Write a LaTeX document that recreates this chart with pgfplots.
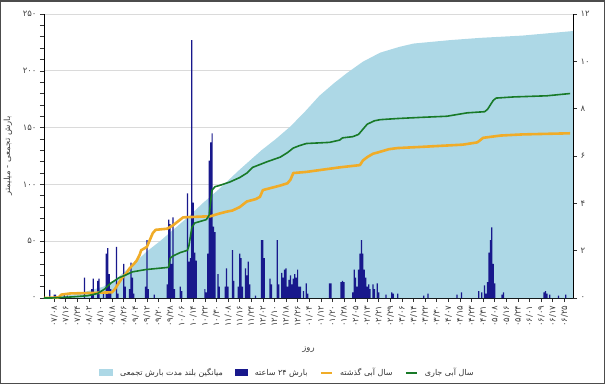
\documentclass[border=0pt]{standalone}
\usepackage{pgfplots}
\pgfplotsset{compat=1.18}
\usepackage{pgfplotstable}
\usepackage{fontspec}
\setmainfont{DejaVu Sans}
\newfontfamily\fa[Script=Arabic]{DejaVu Sans}
\TeXXeTstate=1
\definecolor{ltblue}{RGB}{173,216,230}
\definecolor{navybar}{RGB}{24,24,140}
\definecolor{orangeln}{RGB}{240,172,40}
\definecolor{greenln}{RGB}{24,122,40}
\definecolor{gridgray}{RGB}{218,218,218}

% long-term mean cumulative precipitation (mm)
\pgfplotstableread{
d v
0 0
10 1
20 3
30 6
41 10
50 17
60 28
71 41
80 50
90 61
100 72
110 84
120 95
135 113
150 130
160 140
170 151
180 164
190 178
200 189
209 198
220 208
232 216
245 221
255 224
280 227
301 229
330 231
365 235
}\longmean

% current water year cumulative (mm)
\pgfplotstableread{
d v
0 0
5 0
12 0.5
20 1
30 2
37 4
42 8
46 13
52 18
56 20
61 23
70 25
78 26
86 27
87 35
89 37
94 40
99 42
100 46
102 62
104 66
112 69
114 73
115 85
116 95
118 98
121 99
128 102
135 106
140 110
144 115
150 118
154 120
163 124
168 128
172 132
176 134
181 136
197 137
204 139
206 141
213 142
217 144
219 147
221 150
223 153
228 156
232 157
244 158
260 159
278 160
292 163
304 164
306 166
308 170
310 174
312 176
324 177
347 178
363 180
}\current

% previous water year cumulative (mm)
\pgfplotstableread{
d v
0 0
10 0.5
12 3
18 4
34 4.5
47 5
49 8
50 10
52 14
54 18
57 22
59 26
62 30
64 33
66 38
67 42
71 45
73 51
75 57
77 60
85 61
89 64
92 67
94 69
96 71
115 72
120 74
126 76
130 77
135 80
140 85
146 87
149 89
151 95
157 97
163 99
168 101
170 104
172 110
181 111
204 115
218 117
220 121
223 124
227 127
230 128
238 131
244 132
260 133
289 135
299 137
303 141
315 143
330 144
363 145
}\previous

% 24-hour precipitation (mm, right axis)
\pgfplotstableread{
d p
4 0.34
7 0.14
8 0.14
14 0.19
16 0.10
28 0.86
33 0.38
34 0.82
37 0.72
38 0.82
41 0.24
43 1.87
44 2.11
45 1.01
46 0.38
50 2.16
51 0.19
55 1.44
56 0.48
59 0.38
60 1.49
61 0.86
62 0.19
70 0.48
71 2.45
72 0.38
76 0.14
85 0.58
86 3.31
87 3.12
88 1.44
89 3.41
90 0.38
94 0.48
95 0.29
99 4.42
100 1.54
101 1.68
102 10.90
103 4.03
104 1.92
105 1.58
111 0.38
112 0.24
113 1.87
114 5.81
115 6.58
116 6.96
117 3.02
118 2.78
120 1.01
121 0.48
125 0.48
126 1.25
127 0.48
130 2.02
131 0.72
134 0.48
135 1.87
136 1.68
137 0.48
139 1.25
140 0.96
141 1.54
142 0.58
146 0.10
150 2.45
151 2.45
152 1.68
156 0.82
157 0.58
161 2.45
162 0.58
164 1.06
165 0.86
166 1.20
167 1.25
168 0.48
169 0.77
170 0.96
171 0.58
172 0.82
173 1.01
174 0.86
175 1.20
176 0.48
177 0.48
179 0.29
181 0.62
182 0.19
197 0.62
198 0.62
205 0.67
206 0.72
207 0.67
213 0.24
214 1.20
215 0.86
216 0.48
217 1.20
218 1.87
219 2.45
220 1.87
221 1.20
222 0.86
223 0.48
224 0.58
225 0.38
227 0.58
228 0.38
230 0.62
231 0.24
236 0.14
240 0.24
241 0.19
244 0.19
262 0.10
265 0.19
285 0.14
288 0.24
300 0.29
302 0.24
304 0.53
305 0.19
306 0.67
307 1.92
308 2.45
309 2.98
310 1.44
311 0.62
316 0.14
317 0.24
345 0.24
346 0.29
347 0.19
349 0.14
355 0.10
360 0.14
}\daily

\begin{document}
\begin{tikzpicture}
\begin{axis}[
  at={(0,0)}, anchor=south west,
  width=529pt, height=284pt, scale only axis,
  xmin=0, xmax=365, ymin=0, ymax=250,
  axis x line*=bottom, axis y line*=left,
  axis line style={black, line width=0.8pt},
  ytick={0,50,...,250},
  yticklabels={۰,۵۰,۱۰۰,۱۵۰,۲۰۰,۲۵۰},
  minor ytick={10,20,30,40,60,70,80,90,110,120,130,140,160,170,180,190,210,220,230,240},
  ymajorgrids, grid style={gridgray, line width=1pt},
  xtick={7,15,...,359},
  xticklabels={۰۷/۰۸,۰۷/۱۶,۰۷/۲۴,۰۸/۰۲,۰۸/۱۰,۰۸/۱۸,۰۸/۲۶,۰۹/۰۴,۰۹/۱۲,۰۹/۲۰,۰۹/۲۸,۱۰/۰۶,۱۰/۱۴,۱۰/۲۲,۱۰/۳۰,۱۱/۰۸,۱۱/۱۶,۱۱/۲۴,۱۲/۰۲,۱۲/۱۰,۱۲/۱۸,۱۲/۲۶,۰۱/۰۴,۰۱/۱۲,۰۱/۲۰,۰۱/۲۸,۰۲/۰۵,۰۲/۱۳,۰۲/۲۱,۰۲/۲۹,۰۳/۰۶,۰۳/۱۴,۰۳/۲۲,۰۳/۳۰,۰۴/۰۷,۰۴/۱۵,۰۴/۲۳,۰۴/۳۱,۰۵/۰۸,۰۵/۱۶,۰۵/۲۴,۰۶/۰۱,۰۶/۰۹,۰۶/۱۷,۰۶/۲۵},
  x tick label style={rotate=90, anchor=east, font=\fa\fontsize{8.5}{9}\selectfont, text=black!75},
  y tick label style={font=\fa\fontsize{8.5}{9}\selectfont, text=black!75},
  tick align=outside, major tick length=4pt, minor tick length=4pt,
  tick style={black!80, line width=0.6pt},
  xlabel={\fa\beginR روز\endR},
  xlabel style={at={(axis description cs:0.5,-0.183)}, anchor=center, font=\fa\fontsize{8.5}{9}\selectfont, text=black!75},
  ylabel={\fa\beginR بارش تجمعی - میلیمتر\endR},
  ylabel style={at={(axis description cs:-0.068,0.5)}, anchor=center, font=\fa\fontsize{8.5}{9}\selectfont, text=black!75},
  legend columns=4,
  legend style={at={(axis description cs:0.46,-0.264)}, anchor=center, draw=none, fill=none,
    font=\fa\fontsize{8}{9}\selectfont, text=black!80,
    /tikz/every odd column/.append style={column sep=5pt},
    /tikz/every even column/.append style={column sep=10pt}},
]
\addplot[fill=ltblue, draw=none,
  legend image code/.code={\fill[ltblue] (0pt,-3.5pt) rectangle (14pt,3.5pt);}]
  table[x=d, y=v] {\longmean} \closedcycle;
\addlegendentry{\beginR میانگین بلند مدت بارش تجمعی\endR}
\addplot[ybar, bar width=0.85, fill=navybar, draw=none,
  legend image code/.code={\fill[navybar] (0pt,-3.5pt) rectangle (13pt,3.5pt);}]
  table[x=d, y expr=\thisrow{p}*250/12] {\daily};
\addlegendentry{\beginR بارش ۲۴ ساعته\endR}
\addplot[orangeln, line width=2.6pt, line join=round,
  legend image code/.code={\draw[orangeln, line width=2.6pt] (0pt,0pt) -- (11pt,0pt);}]
  table[x=d, y=v] {\previous};
\addlegendentry{\beginR سال آبی گذشته\endR}
\addplot[greenln, line width=1.6pt, line join=round,
  legend image code/.code={\draw[greenln, line width=2.2pt] (0pt,0pt) -- (11pt,0pt);}]
  table[x=d, y=v] {\current};
\addlegendentry{\beginR سال آبی جاری\endR}
\end{axis}
\begin{axis}[
  at={(0,0)}, anchor=south west,
  width=529pt, height=284pt, scale only axis,
  xmin=0, xmax=365, ymin=0, ymax=12,
  axis x line=none, axis y line*=right,
  axis line style={black, line width=0.8pt},
  ytick={0,2,...,12},
  yticklabels={۰,۲,۴,۶,۸,۱۰,۱۲},
  y tick label style={font=\fa\fontsize{8.5}{9}\selectfont, text=black!75},
  tick align=outside, major tick length=4pt,
  tick style={black!80, line width=0.6pt},
]
\end{axis}
\draw[line width=1.5pt, black!70] (-43.25pt,-85.25pt) rectangle (560.25pt,297.25pt);
\pgfresetboundingbox
\path[use as bounding box] (-44pt,-86pt) rectangle (561pt,298pt);
\end{tikzpicture}
\end{document}
